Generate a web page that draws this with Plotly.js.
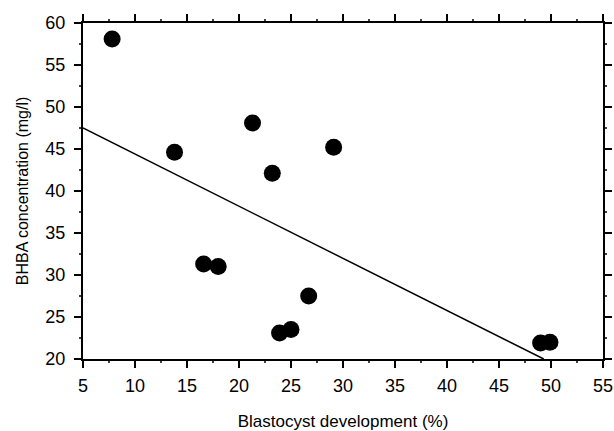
<!DOCTYPE html>
<html>
<head>
<meta charset="utf-8">
<script src="https://cdn.plot.ly/plotly-3.0.1.min.js"></script>
<style>html,body{margin:0;padding:0;background:#fff;}#chart{width:614px;height:431px;}</style>
</head>
<body>
<div id="chart"></div>
<script>
// Data
const blastocyst = [7.8, 13.8, 16.6, 18.0, 21.3, 23.2, 23.9, 25.0, 26.7, 29.1, 49.0, 49.9];
const bhba       = [58.1, 44.6, 31.3, 31.0, 48.1, 42.1, 23.1, 23.5, 27.5, 45.2, 21.9, 22.0];
// Regression line end points
const fitX = [5, 49.3];
const fitY = [47.5, 20];
const xRange = [5, 55];
const yRange = [20, 60];
// Tick positions
const xMajor = [5, 10, 15, 20, 25, 30, 35, 40, 45, 50, 55];
const xMinor = [7.5, 12.5, 17.5, 22.5, 27.5, 32.5, 37.5, 42.5, 47.5, 52.5];
const yMajor = [20, 25, 30, 35, 40, 45, 50, 55, 60];
const yMinor = [22.5, 27.5, 32.5, 37.5, 42.5, 47.5, 52.5, 57.5];

const font = {family: 'Liberation Sans, Arial, sans-serif', color: '#000'};
const MAJOR_LEN = 7, MINOR_LEN = 4;

const traces = [
  {x: fitX, y: fitY, mode: 'lines', type: 'scatter', line: {color: '#000', width: 1.5}, hoverinfo: 'skip'},
  {x: blastocyst, y: bhba, mode: 'markers', type: 'scatter', marker: {color: '#000', size: 17}, cliponaxis: false, hoverinfo: 'skip'}
];

// Tick marks (pixel lengths) on all four sides, placed by the axes
const shapes = [];
function xTick(v, len, w) {
  const st = {color: '#000', width: w};
  shapes.push({type: 'line', xref: 'x', yref: 'paper', ysizemode: 'pixel', yanchor: 0, x0: v, x1: v, y0: 0, y1: -len, line: st});
  shapes.push({type: 'line', xref: 'x', yref: 'paper', ysizemode: 'pixel', yanchor: 1, x0: v, x1: v, y0: 0, y1: len, line: st});
}
function yTick(v, len, w) {
  const st = {color: '#000', width: w};
  shapes.push({type: 'line', yref: 'y', xref: 'paper', xsizemode: 'pixel', xanchor: 0, y0: v, y1: v, x0: 0, x1: -len, line: st});
  shapes.push({type: 'line', yref: 'y', xref: 'paper', xsizemode: 'pixel', xanchor: 1, y0: v, y1: v, x0: 0, x1: len, line: st});
}
xMajor.forEach(v => xTick(v, MAJOR_LEN, 2));
xMinor.forEach(v => xTick(v, MINOR_LEN, 1.5));
yMajor.forEach(v => yTick(v, MAJOR_LEN, 2));
yMinor.forEach(v => yTick(v, MINOR_LEN, 1.5));

const layout = {
  width: 614, height: 431,
  margin: {l: 83, r: 11, t: 23, b: 72},
  paper_bgcolor: '#fff', plot_bgcolor: '#fff',
  showlegend: false,
  xaxis: {
    range: xRange, showgrid: false, zeroline: false,
    showline: true, linecolor: '#000', linewidth: 2, mirror: 'ticks',
    tickmode: 'array', tickvals: xMajor, ticktext: xMajor.map(String),
    ticks: 'outside', ticklen: MAJOR_LEN, tickwidth: 2, tickcolor: '#000',
    tickfont: Object.assign({size: 18}, font), ticklabelstandoff: 2,
    title: {text: 'Blastocyst development (%)', font: Object.assign({size: 17}, font), standoff: 22}
  },
  yaxis: {
    range: yRange, showgrid: false, zeroline: false,
    showline: true, linecolor: '#000', linewidth: 2, mirror: 'ticks',
    tickmode: 'array', tickvals: yMajor, ticktext: yMajor.map(String),
    ticks: 'outside', ticklen: MAJOR_LEN, tickwidth: 2, tickcolor: '#000',
    tickfont: Object.assign({size: 18}, font), ticklabelstandoff: 5,
    title: {text: 'BHBA concentration (mg/l)', font: Object.assign({size: 16}, font), standoff: 13}
  },
  shapes: shapes
};

Plotly.newPlot('chart', traces, layout, {displayModeBar: false});
</script>
</body>
</html>
